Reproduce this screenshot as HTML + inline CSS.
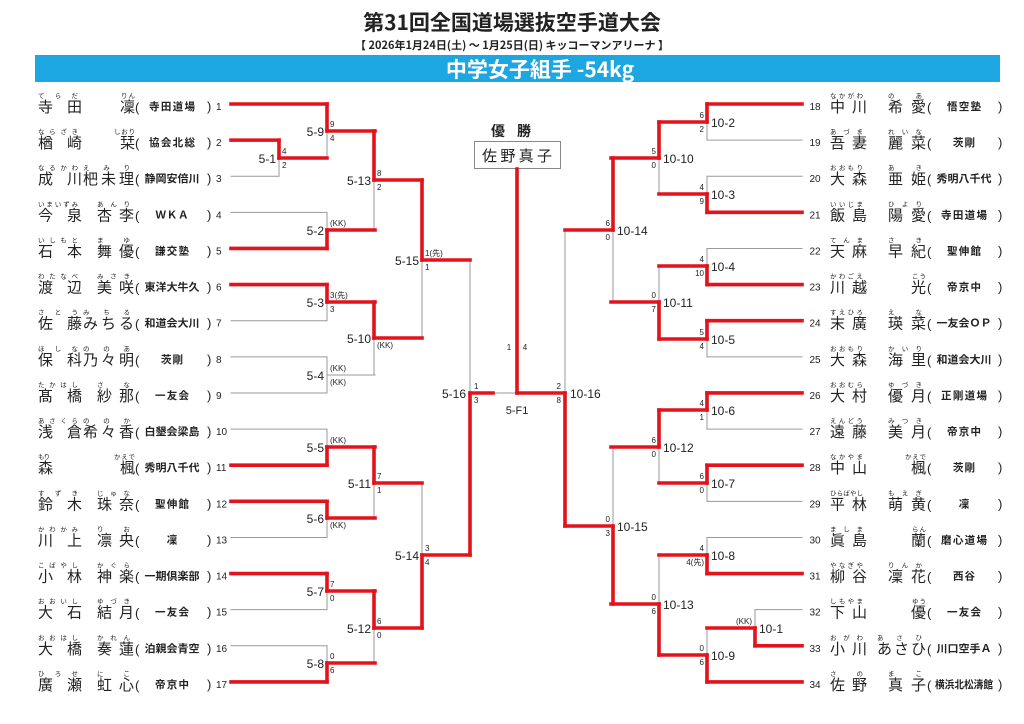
<!DOCTYPE html>
<html><head><meta charset="utf-8">
<style>
html,body{margin:0;padding:0;background:#fff;width:1024px;height:724px;overflow:hidden}
svg text{font-family:"Liberation Sans","Noto Sans CJK JP",sans-serif;fill:#222}
</style></head><body>
<svg id="s" width="1024" height="724" viewBox="0 0 1024 724" xmlns="http://www.w3.org/2000/svg">
<text x="512" y="30" text-anchor="middle" font-size="21" font-weight="bold" style="font-family:'Noto Sans CJK JP',sans-serif">第31回全国道場選抜空手道大会</text>
<text x="512" y="49" text-anchor="middle" font-size="11" font-weight="bold" style="font-family:'Noto Sans CJK JP',sans-serif">【 2026年1月24日(土) ～ 1月25日(日)  キッコーマンアリーナ 】</text>
<rect x="35" y="55" width="965" height="27" fill="#1ca6e2"/>
<text x="540" y="77" text-anchor="middle" font-size="21" font-weight="bold" style="font-family:'Noto Sans CJK JP',sans-serif;fill:#fff">中学女子組手 -54kg</text>
<text x="517" y="136" text-anchor="middle" font-size="14" font-weight="bold" letter-spacing="12" style="font-family:'Noto Sans CJK JP',sans-serif">優勝</text>
<rect x="474.5" y="141.5" width="86" height="27" fill="#fff" stroke="#888"/>
<text x="517" y="161" text-anchor="middle" font-size="15" style="font-family:'Noto Sans CJK JP',sans-serif">佐 野  真 子</text>
<g id="g"></g>
</svg>
<script>
var g=document.getElementById('g'),out='',grey='',red='';
function Y(i){return 104+(i-1)*36.12;}
function L(x1,y1,x2,y2,r){var s='<line x1="'+x1+'" y1="'+y1+'" x2="'+x2+'" y2="'+y2+'" stroke="'+(r?'#e3121b':'#9a9a9a')+'" stroke-width="'+(r?3.6:1)+'" stroke-linecap="square"/>';if(r)red+=s;else grey+=s;}
function T(x,y,s,fs,anch,extra){out+='<text x="'+x+'" y="'+y+'" font-size="'+fs+'" text-anchor="'+(anch||'start')+'" '+(extra||'')+'>'+s+'</text>';}
var left=[
["てらだ","りん","寺田","凜","寺田道場"],["ならざき","しおり","楢崎","栞","協会北総"],["なるかわ","えみり","成川","杷未理","静岡安倍川"],
["いまいずみ","あんり","今泉","杏李","ＷＫＡ"],["いしもと","まゆ","石本","舞優","謙交塾"],["わたなべ","みさき","渡辺","美咲","東洋大牛久"],
["さとう","みちる","佐藤","みちる","和道会大川"],["ほしな","ののあ","保科","乃々明","茨剛"],["たかはし","さな","髙橋","紗那","一友会"],
["あさくら","ののか","浅倉","希々香","白墾会梁島"],["もり","かえで","森","楓","秀明八千代"],["すずき","じゅな","鈴木","珠奈","聖伸館"],
["かわかみ","りお","川上","凛央","凜"],["こばやし","かぐら","小林","神楽","一期倶楽部"],["おおいし","ゆづき","大石","結月","一友会"],
["おおはし","かれん","大橋","奏蓮","泊親会青空"],["ひろせ","にこ","廣瀬","虹心","帝京中"]];
var right=[
["なかがわ","のあ","中川","希愛","悟空塾"],["あづま","れいな","吾妻","麗菜","茨剛"],["おおもり","あき","大森","亜姫","秀明八千代"],
["いいじま","ひより","飯島","陽愛","寺田道場"],["てんま","さき","天麻","早紀","聖伸館"],["かわごえ","こう","川越","光","帝京中"],
["すえひろ","えな","末廣","瑛菜","一友会ＯＰ"],["おおもり","かいり","大森","海里","和道会大川"],["おおむら","ゆづき","大村","優月","正剛道場"],
["えんどう","みつき","遠藤","美月","帝京中"],["なかやま","かえで","中山","楓","茨剛"],["ひらばやし","もえぎ","平林","萌黄","凜"],
["ましま","らん","眞島","蘭","磨心道場"],["やなぎや","りんか","柳谷","凜花","西谷"],["しもやま","ゆう","下山","優","一友会"],
["おがわ","あさひ","小川","あさひ","川口空手Ａ"],["さの","まこ","佐野","真子","横浜北松濤館"]];
function name(x0,y,p,c){
  // c: [famLen, giv2Off, giv2Len, giv3Off, giv3Len, endOff]
  var fam=p[2],giv=p[3];
  var f='style="font-family:\'Noto Sans CJK JP\',sans-serif"';
  if(fam.length==1) T(x0,y+8,fam,15,'start',f); else T(x0,y+8,fam,15,'start',f+' textLength="'+c[0]+'" lengthAdjust="spacing"');
  T(x0,y-6,p[0],6.5,'start','textLength="'+(fam.length==1?12:c[0]-4)+'" lengthAdjust="spacing"');
  if(giv.length==1){T(x0+c[5],y+8,giv,15,'end',f);T(x0+c[5],y-6,p[1],6.5,'end','textLength="'+(p[1].length*7)+'" lengthAdjust="spacing"');}
  else{var o=giv.length==2?c[1]:c[3],l=giv.length==2?c[2]:c[4];
    T(x0+o,y+8,giv,15,'start',f+' textLength="'+l+'" lengthAdjust="spacing"');
    T(x0+o,y-6,p[1],6.5,'start','textLength="'+(l-4)+'" lengthAdjust="spacing"');}
}
function club(cx,y,s){
  var f='font-weight="bold" style="font-family:\'Noto Sans CJK JP\',sans-serif"';
  var w={1:0,2:22,3:34,4:46,5:55,6:58}[s.length];
  if(s=='ＷＫＡ')w=33;
  if(w) T(cx,y+6,s,10.5,'middle',f+' textLength="'+w+'" lengthAdjust="'+(s.length>=5?'spacingAndGlyphs':'spacing')+'"');
  else T(cx,y+6,s,10.5,'middle',f);
}
left.forEach(function(p,i){var y=Y(i+1);name(38,y,p,[44,59,37,45,51,97]);T(135,y+8,'(',13);club(172,y,p[4]);T(207,y+7,')',13);T(216,y+6,String(i+1),10);});
right.forEach(function(p,i){var y=Y(i+1);T(815,y+6,String(i+18),10,'middle');name(830,y,p,[37,58,38,47,49,96]);T(927,y+8,'(',13);club(964,y,p[4]);T(998,y+7,')',13);});
function M(side,x,yt,yb,yj,win,pxt,pxb,lab,st,sb){
  L(x,yt,x,yb,false);
  if(pxt!==null)L(pxt,yt,x,yt,false);
  if(pxb!==null)L(pxb,yb,x,yb,false);
  var nx=side=='L'?x+48:x-48;
  var wy=win=='t'?yt:win=='b'?yb:null, wp=win=='t'?pxt:pxb;
  if(wy!==null){if(wp!==null)L(wp,wy,x,wy,true);L(x,wy,x,yj,true);L(x,yj,nx,yj,true);} else L(x,yj,nx,yj,false);
  if(side=='L'){T(x-3,yj+5,lab,12,'end');if(st)T(x+3,yj-4,st,8,'start');if(sb)T(x+3,yj+10,sb,8,'start');}
  else{T(x+4,yj+5,lab,12,'start');if(st)T(x-3,yj-4,st,8,'end');if(sb)T(x-3,yj+10,sb,8,'end');}
}
var P=231,N=null,R=802;
// LEFT
M('L',279,Y(2),Y(3),158,'t',P,P,'5-1','4','2');
M('L',327,Y(1),158,131,'t',P,N,'5-9','9','4');
M('L',327,Y(4),Y(5),230,'b',P,P,'5-2','(KK)','');
M('L',374,131,230,180,'t',N,N,'5-13','8','2');
M('L',327,Y(6),Y(7),302,'t',P,P,'5-3','3(先)','3');
M('L',327,Y(8),Y(9),375,'n',P,P,'5-4','(KK)','(KK)');
M('L',374,302,375,338,'t',N,N,'5-10','','(KK)');
M('L',422,180,338,260,'t',N,N,'5-15','1(先)','1');
M('L',327,Y(10),Y(11),447,'b',P,P,'5-5','(KK)','');
M('L',327,Y(12),Y(13),518,'t',P,P,'5-6','','(KK)');
M('L',374,447,518,483,'t',N,N,'5-11','7','1');
M('L',327,Y(14),Y(15),591,'t',P,P,'5-7','7','0');
M('L',327,Y(16),Y(17),663,'b',P,P,'5-8','0','6');
M('L',374,591,663,628,'t',N,N,'5-12','6','0');
M('L',422,483,628,555,'b',N,N,'5-14','3','4');
L(470,260,470,555,false);L(470,393,517,393,false);L(470,555,470,393,true);L(470,393,493,393,true);
T(466,398,'5-16',12,'end');T(474,389,'1',8);T(474,403,'3',8);
// RIGHT
M('R',707,Y(1),Y(2),122,'t',R,R,'10-2','6','2');
M('R',707,Y(3),Y(4),194,'b',R,R,'10-3','4','9');
M('R',659,122,194,158,'t',N,N,'10-10','5','0');
M('R',707,Y(5),Y(6),266,'b',R,R,'10-4','4','10');
M('R',707,Y(7),Y(8),339,'t',R,R,'10-5','5','4');
M('R',659,266,339,302,'b',N,N,'10-11','0','7');
M('R',613,158,302,230,'t',N,N,'10-14','6','0');
M('R',707,Y(9),Y(10),410,'t',R,R,'10-6','4','1');
M('R',707,Y(11),Y(12),483,'t',R,R,'10-7','6','0');
M('R',659,410,483,447,'t',N,N,'10-12','6','0');
M('R',755,Y(15),Y(16),628,'b',R,R,'10-1','(KK)','');
M('R',707,Y(13),Y(14),555,'b',R,R,'10-8','4','4(先)');
M('R',707,628,Y(17),655,'b',N,R,'10-9','0','6');
M('R',659,555,655,604,'b',N,N,'10-13','0','6');
M('R',613,447,604,526,'b',N,N,'10-15','0','3');
L(565,230,565,526,false);L(565,526,565,393,true);L(517,393,565,393,true);
T(570,398,'10-16',12,'start');T(561,389,'2',8,'end');T(561,403,'8',8,'end');
L(517,169,517,393,true);
T(509,350,'1',8,'middle');T(525,350,'4',8,'middle');T(517,414,'5-F1',11,'middle');
g.innerHTML=grey+red+out;
</script>
</body></html>
